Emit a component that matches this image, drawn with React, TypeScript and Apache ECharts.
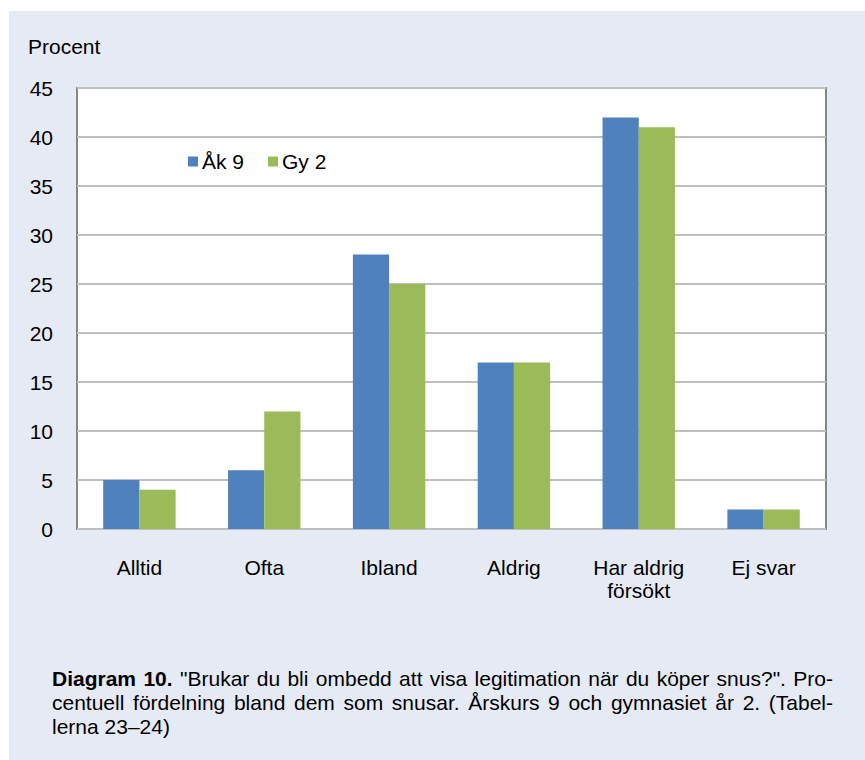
import React, { useEffect, useRef } from "react";
import * as echarts from "echarts";

const categories = ["Alltid", "Ofta", "Ibland", "Aldrig", "Har aldrig\nförsökt", "Ej svar"];
const ak9 = [5, 6, 28, 17, 42, 2];
const gy2 = [4, 12, 25, 17, 41, 2];
const seriesNames = ["Åk 9", "Gy 2"];
const yAxisTitle = "Procent";
const captionLine1Bold = "Diagram 10.";
const captionLine1 = "\"Brukar du bli ombedd att visa legitimation när du köper snus?\". Pro-";
const captionLine2 = "centuell fördelning bland dem som snusar. Årskurs 9 och gymnasiet år 2. (Tabel-";
const captionLine3 = "lerna 23–24)";

const FONT = '"Liberation Sans", Arial, sans-serif';
const FS = 21;

function measure(text: string, bold: boolean): number {
  const c = document.createElement("canvas");
  const ctx = c.getContext("2d")!;
  ctx.font = `${bold ? "bold " : ""}${FS}px "Liberation Sans"`;
  return ctx.measureText(text).width;
}

function justifiedLine(words: { t: string; b: boolean }[], x0: number, x1: number, y: number) {
  const widths = words.map((w) => measure(w.t, w.b));
  const total = widths.reduce((a, b) => a + b, 0);
  const gap = (x1 - x0 - total) / (words.length - 1);
  let x = x0;
  return words.map((w, i) => {
    const el = {
      type: "text",
      x,
      y,
      style: {
        text: w.t,
        font: `${w.b ? "bold " : ""}${FS}px ${FONT}`,
        fill: "#000",
        textVerticalAlign: "middle",
      },
    };
    x += widths[i] + gap;
    return el;
  });
}

export default function App() {
  const ref = useRef<HTMLDivElement>(null);
  useEffect(() => {
    if (!ref.current) return;
    const chart = echarts.init(ref.current, null, { renderer: "svg" });
    const l1Words = [
      ...captionLine1Bold.split(" ").map((t) => ({ t, b: true })),
      ...captionLine1.split(" ").map((t) => ({ t, b: false })),
    ];
    const l2Words = captionLine2.split(" ").map((t) => ({ t, b: false }));
    chart.setOption({
      animation: false,
      backgroundColor: "#ffffff",
      textStyle: { fontFamily: FONT },
      graphic: [
        {
          type: "rect",
          z: -10,
          silent: true,
          shape: { x: 9, y: 11, width: 856, height: 749 },
          style: { fill: "#E6EAF5" },
        },
        {
          type: "rect",
          z: -5,
          silent: true,
          shape: { x: 77, y: 88, width: 749, height: 441 },
          style: { fill: "#ffffff" },
        },
        {
          type: "text",
          x: 28,
          y: 46,
          style: { text: yAxisTitle, font: `${FS}px ${FONT}`, fill: "#000", textVerticalAlign: "middle" },
        },
        ...justifiedLine(l1Words, 52, 833, 678),
        ...justifiedLine(l2Words, 52, 833, 702),
        {
          type: "text",
          x: 52,
          y: 726,
          style: { text: captionLine3, font: `${FS}px ${FONT}`, fill: "#000", textVerticalAlign: "middle" },
        },
      ],
      legend: {
        data: seriesNames,
        left: 183,
        top: 146,
        itemWidth: 10,
        itemHeight: 10,
        itemGap: 24,
        icon: "rect",
        textStyle: { fontSize: FS, color: "#000", fontFamily: FONT, padding: [0, 0, 0, -1] },
      },
      grid: { left: 77, top: 88, width: 749, height: 441, show: true, borderColor: "#868686", borderWidth: 2, backgroundColor: "transparent" },
      xAxis: {
        type: "category",
        data: categories,
        axisLine: { show: false },
        axisTick: { show: false },
        axisLabel: { fontSize: FS, color: "#000", margin: 27, lineHeight: 23, fontFamily: FONT },
      },
      yAxis: {
        type: "value",
        min: 0,
        max: 45,
        interval: 5,
        axisLine: { show: false },
        axisTick: { show: false },
        splitLine: { lineStyle: { color: "#BFBFBF", width: 2 } },
        axisLabel: { fontSize: FS, color: "#000", margin: 24, fontFamily: FONT },
      },
      series: [
        {
          name: seriesNames[0],
          type: "bar",
          data: ak9,
          barGap: "0%",
          barCategoryGap: "42%",
          itemStyle: { color: "#4F81BD" },
        },
        {
          name: seriesNames[1],
          type: "bar",
          data: gy2,
          barGap: "0%",
          barCategoryGap: "42%",
          itemStyle: { color: "#9BBB59" },
        },
      ],
    });
    return () => chart.dispose();
  }, []);
  return (
    <div
      ref={ref}
      style={{ position: "fixed", left: 0, top: 0, width: 865, height: 760 }}
    />
  );
}
